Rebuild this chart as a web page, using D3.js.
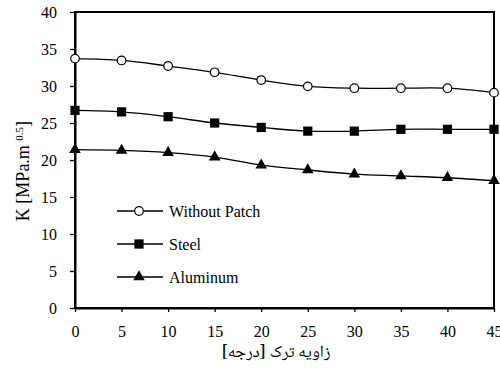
<!DOCTYPE html>
<html>
<head>
<meta charset="utf-8">
<script src="https://cdn.jsdelivr.net/npm/d3@7"></script>
<style>
  body { margin: 0; background: #fff; }
</style>
</head>
<body>
<script>
// crack angle (degrees)
var angles = [0, 5, 10, 15, 20, 25, 30, 35, 40, 45];
// K values
var withoutPatch = [33.7, 33.45, 32.7, 31.85, 30.8, 29.95, 29.7, 29.7, 29.7, 29.1];
var steel = [26.7, 26.5, 25.85, 25.0, 24.4, 23.9, 23.9, 24.15, 24.15, 24.15];
var aluminum = [21.4, 21.3, 21.0, 20.4, 19.3, 18.65, 18.1, 17.85, 17.6, 17.2];
var seriesNames = ["Without Patch", "Steel", "Aluminum"];
var xTicks = [0, 5, 10, 15, 20, 25, 30, 35, 40, 45];
var yTicks = [0, 5, 10, 15, 20, 25, 30, 35, 40];

var FONT = "'Liberation Serif', 'Times New Roman', serif";

function init() {
    var w = 500, h = 370;

    var svg = d3.select("body").append("svg")
        .attr("width", w)
        .attr("height", h)
        .style("font-family", FONT);

    var xScale = d3.scaleLinear().domain([0, 45]).range([75, 494]);
    var yScale = d3.scaleLinear().domain([0, 40]).range([308, 12]);

    var series = [
        { name: seriesNames[0], values: withoutPatch, marker: "circle" },
        { name: seriesNames[1], values: steel, marker: "square" },
        { name: seriesNames[2], values: aluminum, marker: "triangle" }
    ];

    // frame
    svg.append("rect")
        .attr("x", xScale(0))
        .attr("y", yScale(40))
        .attr("width", xScale(45) - xScale(0))
        .attr("height", yScale(0) - yScale(40))
        .attr("fill", "none")
        .attr("stroke", "#000")
        .attr("stroke-width", 2);

    // axes
    var yAxis = d3.axisLeft(yScale).tickValues(yTicks).tickSize(5).tickSizeOuter(0).tickPadding(13);
    var xAxis = d3.axisBottom(xScale).tickValues(xTicks).tickSize(4).tickSizeOuter(0).tickPadding(14);

    var gy = svg.append("g")
        .attr("transform", "translate(" + xScale(0) + ",0)")
        .call(yAxis);
    var gx = svg.append("g")
        .attr("transform", "translate(0," + yScale(0) + ")")
        .call(xAxis);

    [gx, gy].forEach(function(g) {
        g.attr("font-family", null).attr("font-size", null);
        g.select(".domain").attr("stroke-width", 2);
        g.selectAll(".tick line").attr("stroke-width", 1.3);
        g.selectAll("text")
            .style("font-family", FONT)
            .style("font-size", "16px");
    });

    // lines (smoothed like the original)
    var line = d3.line()
        .x(function(d, i) { return xScale(angles[i]); })
        .y(function(d) { return yScale(d); })
        .curve(d3.curveCatmullRom.alpha(0.5));

    function drawMarker(g, type, x, y) {
        if (type === "circle") {
            g.append("circle")
                .attr("cx", x).attr("cy", y).attr("r", 4.3)
                .attr("fill", "#fff").attr("stroke", "#000").attr("stroke-width", 1.2);
        } else {
            var sym = type === "square" ? d3.symbolSquare : d3.symbolTriangle;
            var size = type === "square" ? 85 : 58;
            g.append("path")
                .attr("transform", "translate(" + x + "," + y + ")")
                .attr("d", d3.symbol().type(sym).size(size)())
                .attr("fill", "#000");
        }
    }

    series.forEach(function(s) {
        svg.append("path")
            .datum(s.values)
            .attr("fill", "none")
            .attr("stroke", "#000")
            .attr("stroke-width", 1.3)
            .attr("d", line);
        var g = svg.append("g");
        s.values.forEach(function(v, i) {
            drawMarker(g, s.marker, xScale(angles[i]), yScale(v));
        });
    });

    // legend
    var legendY = [211, 244, 277];
    series.forEach(function(s, i) {
        var g = svg.append("g");
        g.append("line")
            .attr("x1", 117).attr("x2", 163)
            .attr("y1", legendY[i]).attr("y2", legendY[i])
            .attr("stroke", "#000").attr("stroke-width", 1.3);
        drawMarker(g, s.marker, 139, legendY[i]);
        g.append("text")
            .attr("x", 169)
            .attr("y", legendY[i])
            .attr("dy", "0.35em")
            .style("font-family", FONT)
            .style("font-size", "16px")
            .text(s.name);
    });

    // y axis title
    var yt = svg.append("text")
        .attr("transform", "translate(29,171) rotate(-90)")
        .attr("text-anchor", "middle")
        .style("font-family", FONT)
        .style("font-size", "18px");
    yt.append("tspan").text("K [MPa.m ");
    yt.append("tspan").attr("baseline-shift", "super").style("font-size", "11px").text("0.5");
    yt.append("tspan").text("]");

    // x axis title
    svg.append("text")
        .attr("x", 276)
        .attr("y", 357)
        .attr("text-anchor", "middle")
        .style("font-family", "'Noto Naskh Arabic', 'Liberation Serif', serif")
        .style("font-size", "17px")
        .text("زاویه ترک [درجه]");
}

window.onload = init;
</script>
</body>
</html>
